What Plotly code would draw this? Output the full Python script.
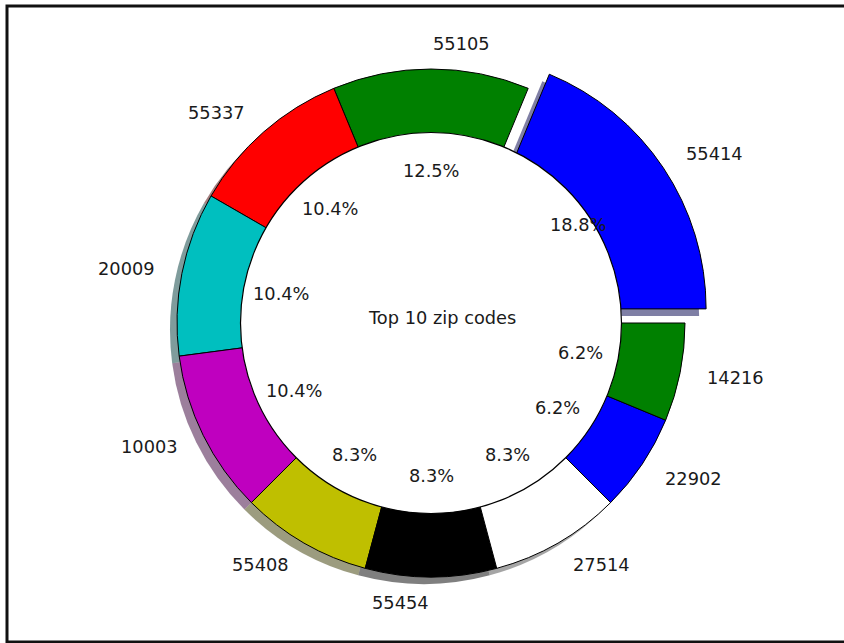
import math
import plotly.graph_objects as go

# ---- data ----
zip_codes = ['55414', '55105', '55337', '20009', '10003', '55408', '55454', '27514', '22902', '14216']
counts = [9, 6, 5, 5, 5, 4, 4, 4, 3, 3]
slice_colors = ['#0000ff', '#008000', '#ff0000', '#00bfbf', '#bf00bf',
                '#bfbf00', '#000000', '#ffffff', '#0000ff', '#008000']
explode = [0.1, 0, 0, 0, 0, 0, 0, 0, 0, 0]
center_title = 'Top 10 zip codes'

# ---- layout geometry (pixels) ----
W, H = 844, 643
CX, CY, R = 431, 323, 254          # pie centre and radius in pixels
SHADOW_DX, SHADOW_DY = -7, 7        # shadow offset in pixels
HOLE = 0.75
LABEL_DIST, PCT_DIST = 1.1, 0.6
FONT = dict(family='DejaVu Sans', size=17.8, color='#1a1a1a')

# data axis: 1 unit = R pixels, centred on the pie
xr = [-CX / R, (W - CX) / R]
yr = [-(H - CY) / R, CY / R]

max_pull = max(explode)
half = R * (1 + max_pull)
total = sum(counts)
# plotly places the first counterclockwise slice ending at the rotation angle;
# shift so the first slice starts at 3 o'clock (like startangle=0)
rotation = 90 - 360.0 * counts[0] / total


def domain(cx, cy):
    return dict(x=[(cx - half) / W, (cx + half) / W],
                y=[1 - (cy + half) / H, 1 - (cy - half) / H])


def shadow(c):
    h = c.lstrip('#')
    r, g, b = (int(h[i:i + 2], 16) for i in (0, 2, 4))
    return f'rgba({0.3 * r:.0f},{0.3 * g:.0f},{0.3 * b:.0f},0.5)'


fig = go.Figure()

# shadow
fig.add_trace(go.Pie(
    labels=zip_codes, values=counts, sort=False, direction='counterclockwise',
    rotation=rotation, pull=explode, textinfo='none', hoverinfo='skip',
    marker=dict(colors=[shadow(c) for c in slice_colors], line=dict(width=0)),
    domain=domain(CX + SHADOW_DX, CY + SHADOW_DY), showlegend=False))

# main wedges
fig.add_trace(go.Pie(
    labels=zip_codes, values=counts, sort=False, direction='counterclockwise',
    rotation=rotation, pull=explode, textinfo='none', hoverinfo='label+percent',
    marker=dict(colors=slice_colors, line=dict(color='black', width=1)),
    domain=domain(CX, CY), showlegend=False))

# invisible scatter to establish the data axes
fig.add_trace(go.Scatter(x=[0], y=[0], mode='markers', marker=dict(opacity=0),
                         hoverinfo='skip', showlegend=False))

annotations = []
theta1 = 0.0
for lab, val, ex in zip(zip_codes, counts, explode):
    theta2 = theta1 + 360.0 * val / total
    mid = math.radians((theta1 + theta2) / 2)
    c, s = math.cos(mid), math.sin(mid)
    ox, oy = ex * c, ex * s
    lx, ly = ox + LABEL_DIST * c, oy + LABEL_DIST * s
    annotations.append(dict(x=lx, y=ly, xref='x', yref='y', text=lab, showarrow=False,
                            xanchor='left' if lx > 0 else 'right', yanchor='middle', font=FONT))
    pct = 100.0 * val / total
    annotations.append(dict(x=ox + PCT_DIST * c, y=oy + PCT_DIST * s, xref='x', yref='y',
                            text=f'{pct:.1f}%', showarrow=False,
                            xanchor='center', yanchor='middle', font=FONT))
    theta1 = theta2

annotations.append(dict(x=0.045, y=0.02, xref='x', yref='y', text=center_title,
                        showarrow=False, xanchor='center', yanchor='middle', font=FONT))

shapes = [
    # centre circle covering the inner part of the wedges
    dict(type='circle', xref='x', yref='y', x0=-HOLE, y0=-HOLE, x1=HOLE, y1=HOLE,
         fillcolor='white', line=dict(color='black', width=1.2), layer='above'),
    # outer frame
    dict(type='rect', xref='paper', yref='paper', x0=7 / W, x1=1.02,
         y0=1 - 642 / H, y1=1 - 6 / H, line=dict(color='#111111', width=3),
         fillcolor='rgba(0,0,0,0)', layer='above'),
]

fig.update_layout(
    width=W, height=H, margin=dict(l=0, r=0, t=0, b=0),
    paper_bgcolor='white', plot_bgcolor='rgba(0,0,0,0)',
    xaxis=dict(range=xr, visible=False, fixedrange=True),
    yaxis=dict(range=yr, visible=False, fixedrange=True),
    annotations=annotations, shapes=shapes, showlegend=False,
)

fig.write_html('out.html', config={'displayModeBar': False},
               post_script="document.body.style.margin='0';document.body.style.overflow='hidden';")
